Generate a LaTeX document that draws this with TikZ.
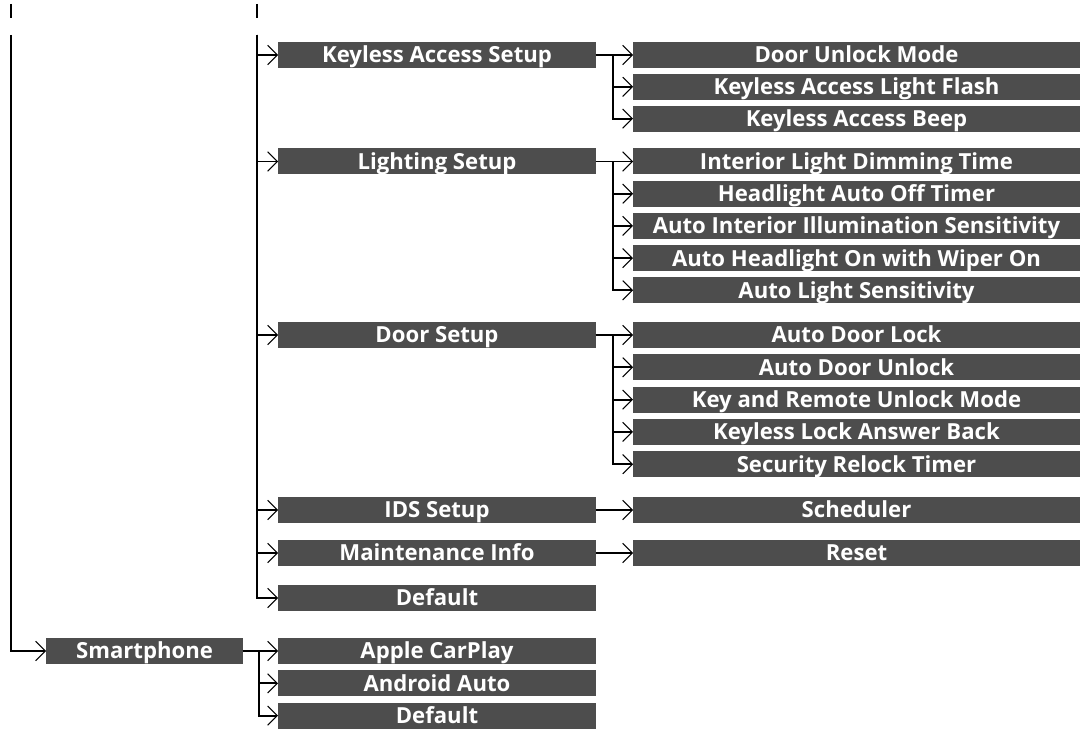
\documentclass[tikz,border=0pt]{standalone}
\usepackage{fontspec}
\setmainfont{Open Sans}
\usepackage{xcolor}
\usepackage{tikz}
\usetikzlibrary{arrows.meta, positioning, calc}

\definecolor{boxgray}{RGB}{77,77,77}

\begin{document}
\begin{tikzpicture}
					[x=0.02cm, y=-0.02cm, >={Straight Barb[length=5.5pt, width=11pt, line width=0.6pt]},
					line width=1.1pt,
					item/.style={rectangle, fill=boxgray, text=white, inner sep=0pt, outer sep=0pt, minimum height=0.52cm,
						text height=9pt, text depth=0pt, font=\fontsize{12.6}{14}\selectfont\bfseries},
					menu/.style={item, minimum width=6.36cm},
					sub/.style={item, minimum width=8.94cm},
					top/.style={item, minimum width=3.94cm}
					]
					\useasboundingbox (0,0) rectangle (1088,729);
					
					% Nodes
					\node[menu] (kas) at (437,55) {Keyless Access Setup};
					\node[menu] (light) at (437,161.5) {Lighting Setup};
					\node[menu] (door) at (437,335) {Door Setup};
					\node[menu] (ids) at (437,510) {IDS Setup};
					\node[menu] (maint) at (437,553) {Maintenance Info};
					\node[menu] (dflt) at (437,598) {Default};
					\node[top] (smart) at (144.5,651) {Smartphone};
					
					\foreach \t [count=\i] in {Door Unlock Mode, Keyless Access Light Flash, Keyless Access Beep}
						\node[sub] (kas\i) at (856.5,{55+31.8*(\i-1)}) {\t};
					\foreach \t [count=\i] in {Interior Light Dimming Time, Headlight Auto Off Timer,
						Auto Interior Illumination Sensitivity, Auto Headlight On with Wiper On, Auto Light Sensitivity}
						\node[sub] (light\i) at (856.5,{161.5+32.2*(\i-1)}) {\t};
					\foreach \t [count=\i] in {Auto Door Lock, Auto Door Unlock, Key and Remote Unlock Mode,
						Keyless Lock Answer Back, Security Relock Timer}
						\node[sub] (door\i) at (856.5,{335+32.3*(\i-1)}) {\t};
					\node[sub] (sched) at (856.5,510) {Scheduler};
					\node[sub] (reset) at (856.5,553) {Reset};
					\foreach \t [count=\i] in {Apple CarPlay, Android Auto, Default}
						\node[menu] (smart\i) at (437,{651+32.3*(\i-1)}) {\t};
					
					% Trunk ends
					\coordinate (cutA) at (11,4);
					\coordinate (cutB) at (257,4);
					\coordinate (trunkA) at (11,35);
					\coordinate (trunkB) at (257,35);
					\draw (cutA) -- ++(0,14);
					\draw (cutB) -- ++(0,14);
					
					% Arrows
					\draw[->] (trunkA) |- (smart.west);
					\foreach \n in {kas, light, door, ids, maint, dflt}
						\draw[->] (trunkB) |- (\n.west);
					\foreach \i in {1,2,3}
						\draw[->] (kas.east) -- ++(17,0) |- (kas\i.west);
					\foreach \i in {1,...,5}
						\draw[->] (light.east) -- ++(17,0) |- (light\i.west);
					\foreach \i in {1,...,5}
						\draw[->] (door.east) -- ++(17,0) |- (door\i.west);
					\draw[->] (ids) -- (sched);
					\draw[->] (maint) -- (reset);
					\foreach \i in {1,2,3}
						\draw[->] (smart.east) -- ++(16,0) |- (smart\i.west);
				\end{tikzpicture}
\end{document}
